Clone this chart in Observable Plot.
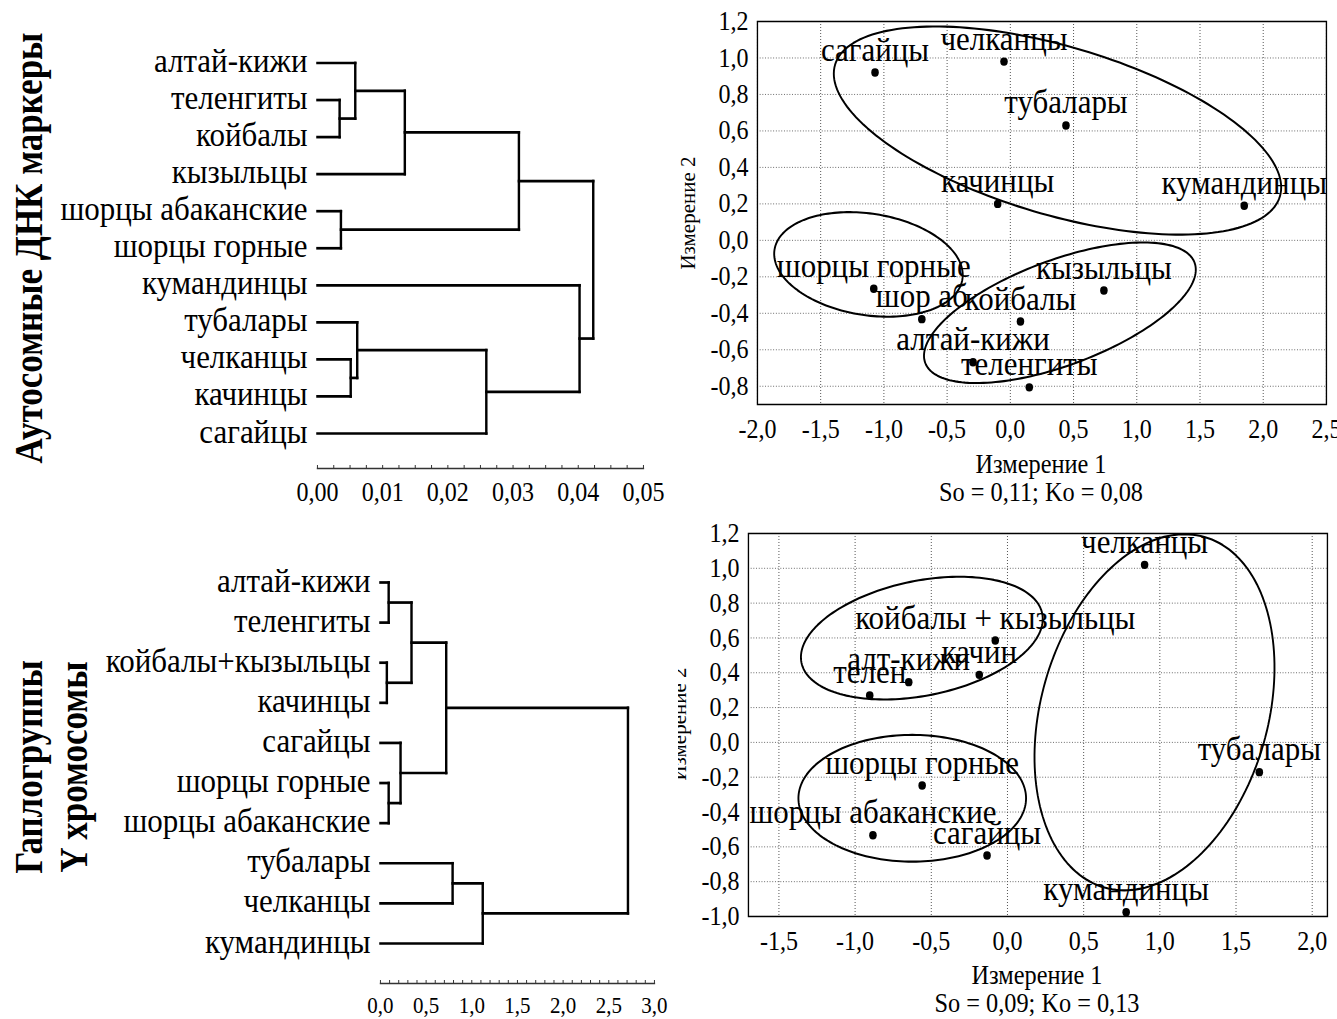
<!DOCTYPE html>
<html><head><meta charset="utf-8">
<script src="https://cdn.jsdelivr.net/npm/d3@7"></script>
<script src="https://cdn.jsdelivr.net/npm/@observablehq/plot@0.6"></script>
<style>
html,body{margin:0;padding:0;background:#fff;overflow:hidden}
#page{position:relative;width:1337px;height:1019px;font-family:"Liberation Serif","Times New Roman",serif;color:#000;overflow:hidden}
#stage{position:absolute;left:0;top:0;height:1019px;transform-origin:0 0}
#stage svg{position:absolute;left:0;top:0}
.rot{position:absolute;transform:translate(-50%,-50%) rotate(-90deg);white-space:nowrap;text-align:center}
.rotb{position:absolute;transform:translate(-50%,-50%) rotate(-90deg) scaleY(1.12);white-space:nowrap;text-align:center}
.lbl{position:absolute;transform:translate(-50%,-50%);white-space:nowrap;line-height:1}
.clip{position:absolute;overflow:hidden}
</style></head><body><div id="page"><div id="stage"></div></div>
<script>
// ---------- data ----------
const dendro1Leaves = ["алтай-кижи","теленгиты","койбалы","кызыльцы","шорцы абаканские","шорцы горные","кумандинцы","тубалары","челканцы","качинцы","сагайцы"];
// [left child, right child, joining distance]; "mK" = K-th merge
const dendro1Merges = [
  ["теленгиты","койбалы",0.0034],
  ["алтай-кижи","m0",0.0058],
  ["m1","кызыльцы",0.0134],
  ["шорцы абаканские","шорцы горные",0.0036],
  ["m2","m3",0.0309],
  ["челканцы","качинцы",0.0051],
  ["тубалары","m5",0.0061],
  ["m6","сагайцы",0.0259],
  ["кумандинцы","m7",0.0402],
  ["m4","m8",0.0423]
];
const dendro1Labels = [0,0.01,0.02,0.03,0.04,0.05];

const dendro2Leaves = ["алтай-кижи","теленгиты","койбалы+кызыльцы","качинцы","сагайцы","шорцы горные","шорцы абаканские","тубалары","челканцы","кумандинцы"];
const dendro2Merges = [
  ["алтай-кижи","теленгиты",0.09],
  ["койбалы+кызыльцы","качинцы",0.07],
  ["m0","m1",0.34],
  ["шорцы горные","шорцы абаканские",0.09],
  ["сагайцы","m3",0.22],
  ["m2","m4",0.72],
  ["тубалары","челканцы",0.79],
  ["m6","кумандинцы",1.12],
  ["m5","m7",2.71]
];
const dendro2Labels = [0,0.5,1,1.5,2,2.5,3];

const mds1Names = ["сагайцы","челканцы","тубалары","качинцы","кумандинцы","шорцы горные","шор аб","койбалы","кызыльцы","алтай-кижи","теленгиты"];
const mds1X = [-1.07,-0.05,0.44,-0.10,1.85,-1.08,-0.70,0.08,0.74,-0.295,0.15];
const mds1Y = [0.92,0.98,0.63,0.20,0.19,-0.265,-0.432,-0.445,-0.275,-0.668,-0.806];
const mds1XTicks = [-2,-1.5,-1,-0.5,0,0.5,1,1.5,2,2.5];
const mds1YTicks = [-0.8,-0.6,-0.4,-0.2,0,0.2,0.4,0.6,0.8,1.0,1.2];
// ellipse: [cx, cy, ux, uy, vx, vy] (centre and conjugate semi-axes, data units)
const mds1Ellipses = [
  [0.373,0.602,1.759,-0.361,-0.189,-0.442],
  [-1.122,-0.132,0.743,-0.081,-0.062,-0.275],
  [0.392,-0.397,1.065,0.275,0.145,-0.270]
];

const mds2Names = ["челканцы","койбалы + кызыльцы","качин","алт-кижи","телен","тубалары","шорцы горные","шорцы абаканские","сагайцы","кумандинцы"];
const mds2X = [0.90,-0.08,-0.185,-0.648,-0.904,1.653,-0.56,-0.883,-0.134,0.779];
const mds2Y = [1.02,0.585,0.388,0.346,0.27,-0.171,-0.248,-0.533,-0.65,-0.976];
const mds2XTicks = [-1.5,-1,-0.5,0,0.5,1,1.5,2];
const mds2YTicks = [-1.0,-0.8,-0.6,-0.4,-0.2,0,0.2,0.4,0.6,0.8,1.0,1.2];
const mds2Ellipses = [
  [-0.562,0.599,0.790,0.141,0.075,-0.323],
  [-0.625,-0.321,0.747,0,0,-0.364],
  [0.965,0.173,0.328,1.007,0.716,-0.179]
];

// ---------- drawing ----------
const W = 1337, H = 1019;
const SX = 0.9;               // the original figure's type is horizontally condensed
const WS = W / SX;
const page = document.getElementById("page");
const stage = document.getElementById("stage");
stage.style.width = WS + "px";
stage.style.transform = `scaleX(${SX})`;
const FONT = '"Liberation Serif","Times New Roman",serif';
const baseStyle = {background: "transparent", fontFamily: FONT, fontSize: "26px", overflow: "visible"};

function buildDendro(leaves, merges) {
  const pos = new Map();
  leaves.forEach((d, i) => pos.set(d, {y: i, h: 0}));
  const segs = [];
  merges.forEach(([a, b, h], k) => {
    const A = pos.get(a), B = pos.get(b);
    segs.push({x1: A.h, y1: A.y, x2: h, y2: A.y});
    segs.push({x1: B.h, y1: B.y, x2: h, y2: B.y});
    segs.push({x1: h, y1: A.y, x2: h, y2: B.y});
    pos.set("m" + k, {y: (A.y + B.y) / 2, h});
  });
  return segs;
}

function dendroPlot(leaves, merges, xmax, labels, minor, fmt, L) {
  const segs = buildDendro(leaves, merges);
  const top = 20;
  const frameH = L.axis - top;
  return Plot.plot({
    width: WS, height: H,
    marginLeft: L.left / SX, marginRight: (W - L.right) / SX, marginTop: top, marginBottom: H - L.axis,
    x: {domain: [0, xmax]},
    y: {domain: [0, leaves.length - 1], range: [L.first, L.last], axis: null},
    style: baseStyle,
    marks: [
      Plot.frame({anchor: "bottom", stroke: "#333", strokeWidth: 1.5}),
      Plot.ruleX(minor, {x: d => d, insetTop: frameH - 3, stroke: "#333", strokeWidth: 1.1}),
      Plot.axisX(labels, {tickSize: 0, tickPadding: L.pad, tickFormat: fmt, fontSize: L.tickFont, label: null}),
      Plot.link(segs, {x1: "x1", y1: "y1", x2: "x2", y2: "y2", stroke: "black", strokeWidth: 2.7, strokeLinecap: "square"}),
      Plot.text(leaves, {x: () => 0, y: (d, i) => i, text: d => d, textAnchor: "end", lineAnchor: "middle", dx: -11, dy: -2, fontSize: 34.4})
    ]
  });
}

function mdsPlot(names, xs, ys, xTicks, yTicks, xDom, yDom, ellipses, F) {
  const pts = names.map((n, i) => ({n, x: xs[i], y: ys[i]}));
  const ell = ellipses.flatMap((e, k) => d3.range(0, 181).map(j => {
    const t = j / 180 * 2 * Math.PI;
    return {k, x: e[0] + e[2] * Math.cos(t) + e[4] * Math.sin(t), y: e[1] + e[3] * Math.cos(t) + e[5] * Math.sin(t)};
  }));
  const fmt = d => d.toFixed(1).replace(".", ",");
  return Plot.plot({
    width: WS, height: H,
    marginLeft: F.l / SX, marginRight: (W - F.r) / SX, marginTop: F.t, marginBottom: H - F.b,
    x: {domain: xDom}, y: {domain: yDom},
    style: baseStyle,
    marks: [
      Plot.gridX(xTicks, {stroke: "#555", strokeOpacity: 1, strokeWidth: 1.1, strokeDasharray: "1,2"}),
      Plot.gridY(yTicks, {stroke: "#555", strokeOpacity: 1, strokeWidth: 1, strokeDasharray: "1,2"}),
      Plot.frame({stroke: "black", strokeWidth: 1.5}),
      Plot.axisX(xTicks, {tickSize: 0, tickPadding: 15, tickFormat: fmt, fontSize: 26.7, label: null}),
      Plot.axisY(yTicks, {tickSize: 0, tickPadding: 10, tickFormat: fmt, fontSize: 26.7, label: null}),
      Plot.line(ell, {x: "x", y: "y", z: "k", stroke: "black", strokeWidth: 2.1, curve: "linear"}),
      Plot.dot(pts, {x: "x", y: "y", r: 4.2, fill: "black"}),
      Plot.text(pts, {x: "x", y: "y", text: "n", dy: -23, fontSize: 34.4, lineAnchor: "middle"})
    ]
  });
}

stage.append(dendroPlot(dendro1Leaves, dendro1Merges, 0.05, dendro1Labels, d3.range(0, 0.05001, 0.0025), d => d.toFixed(2).replace(".", ","),
  {left: 317, right: 643, first: 62.5, last: 433, axis: 468, pad: 14, tickFont: 26.7}));
stage.append(dendroPlot(dendro2Leaves, dendro2Merges, 3, dendro2Labels, d3.range(0, 3.0001, 0.1), d => d.toFixed(1).replace(".", ","),
  {left: 380, right: 654, first: 582, last: 943, axis: 983, pad: 13, tickFont: 23.3}));
stage.append(mdsPlot(mds1Names, mds1X, mds1Y, mds1XTicks, mds1YTicks, [-2, 2.5], [-0.9, 1.2], mds1Ellipses, {l: 757, r: 1326, t: 21, b: 404}));
stage.append(mdsPlot(mds2Names, mds2X, mds2Y, mds2XTicks, mds2YTicks, [-1.7, 2.1], [-1.0, 1.2], mds2Ellipses, {l: 748, r: 1327, t: 533, b: 916}));

// ---------- titles ----------
function addDiv(parent, cls, html, css) {
  const d = document.createElement("div");
  d.className = cls; d.innerHTML = html;
  Object.assign(d.style, css);
  parent.append(d);
  return d;
}
addDiv(page, "rotb", "Аутосомные ДНК маркеры", {left: "30px", top: "248px", fontSize: "35px", fontWeight: "bold", lineHeight: "42px"});
addDiv(page, "rotb", "Гаплогруппы<br>Y хромосомы", {left: "52px", top: "767px", fontSize: "35px", fontWeight: "bold", lineHeight: "40px"});

addDiv(stage, "lbl", "Измерение 1", {left: 1041 / SX + "px", top: "464px", fontSize: "27px"});
addDiv(stage, "lbl", "So = 0,11; Ko = 0,08", {left: 1041 / SX + "px", top: "492px", fontSize: "27px"});
addDiv(stage, "lbl", "Измерение 1", {left: 1037 / SX + "px", top: "975px", fontSize: "27px"});
addDiv(stage, "lbl", "So = 0,09; Ko = 0,13", {left: 1037 / SX + "px", top: "1003px", fontSize: "27px"});
addDiv(page, "rot", "Измерение 2", {left: "688px", top: "213px", fontSize: "21px", lineHeight: "21px"});
const clip = addDiv(page, "clip", "", {left: "678px", top: "600px", width: "30px", height: "250px"});
addDiv(clip, "rot", "Измерение 2", {left: "1px", top: "124px", fontSize: "21px", lineHeight: "21px"});
</script>
</body></html>
